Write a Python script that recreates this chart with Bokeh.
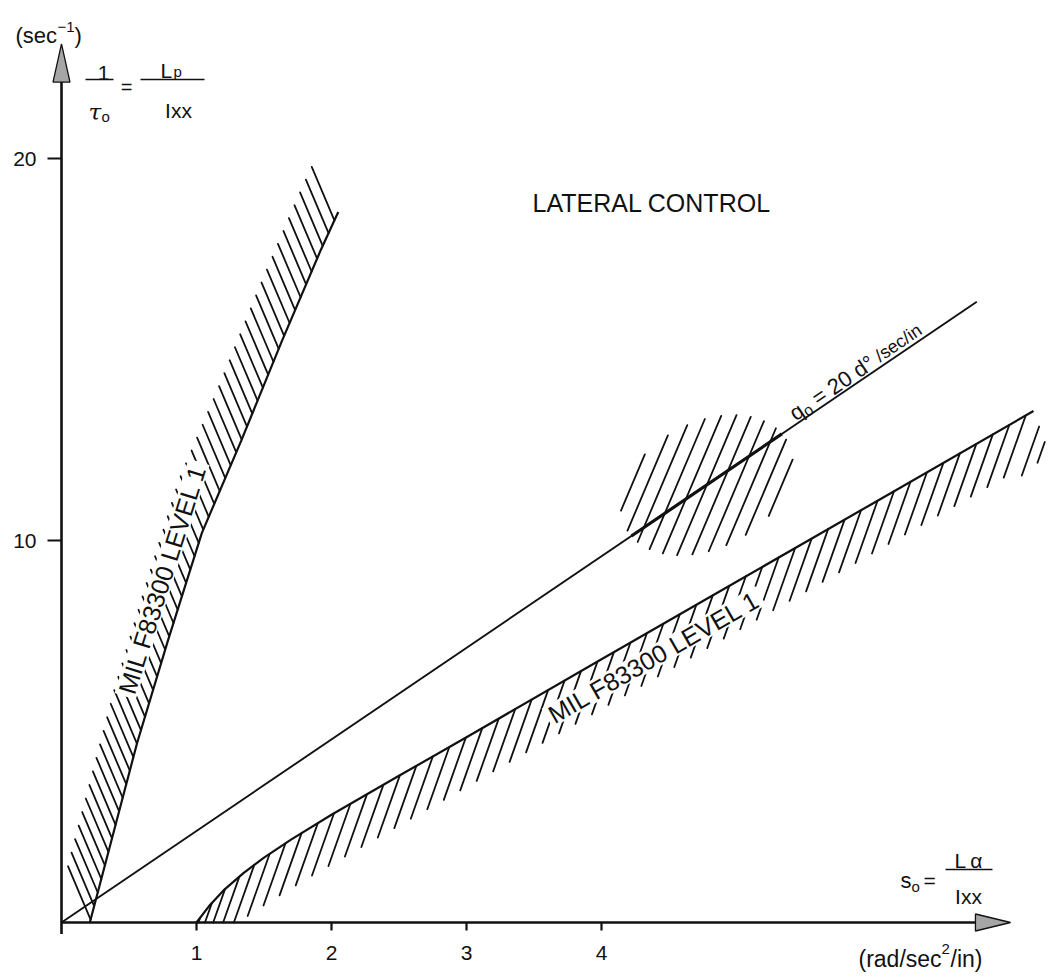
import numpy as np
from bokeh.plotting import figure
from bokeh.models import Range1d
from bokeh.core.properties import value
from bokeh.embed import file_html
from bokeh.resources import INLINE

# ---------------- chart data ----------------
x_ticks = [1, 2, 3, 4]
x_tick_labels = ["1", "2", "3", "4"]
y_ticks = [10, 20]
y_tick_labels = ["10", "20"]

# line of constant roll sensitivity q0 = 20 deg/sec/in  (s0, 1/tau0)
q0_s = [0.0, 6.78]
q0_p = [0.0, 16.25]

# MIL F83300 level 1 boundaries (s0, 1/tau0)
left_s = [0.21, 0.56, 0.79, 1.04, 1.33, 1.63, 1.92, 2.05]
left_p = [0.0, 4.7, 7.4, 10.2, 12.6, 15.2, 17.6, 18.6]
right_s = [1.0, 1.1, 1.2, 1.35, 1.5, 1.7, 2.0, 2.5, 3.0, 4.0, 5.0, 6.0, 7.2]
right_p = [0.0, 0.46, 0.84, 1.30, 1.70, 2.17, 2.82, 3.84, 4.85, 6.89, 8.92, 10.95, 13.39]

# hatched design region on the q0 line
blob_s = [4.78]
blob_p = [11.45]

x_axis_end = 7.03
y_axis_end = 23.0

# ---------------- page geometry ----------------
W, H = 1052, 977
X0, Y0 = 61.0, 922.0      # page pixel of the origin
SX, SY = 135.0, 38.2      # pixels per unit

INK = "#111111"
FONT = "Liberation Sans"


def to_px(x, y):
    return X0 + SX * np.asarray(x, float), Y0 - SY * np.asarray(y, float)


def to_data(px, py):
    return (np.asarray(px, float) - X0) / SX, (Y0 - np.asarray(py, float)) / SY


p = figure(width=W, height=H,
           x_range=Range1d(-X0 / SX, (W - X0) / SX),
           y_range=Range1d(-(H - Y0) / SY, Y0 / SY),
           output_backend="svg", toolbar_location=None,
           x_axis_location=None, y_axis_location=None,
           min_border=0, outline_line_color=None,
           background_fill_color="white", border_fill_color="white")
p.xgrid.visible = False
p.ygrid.visible = False


def txt(x, y, s, size, align="left", baseline="alphabetic", angle=0.0,
        style="normal", font=FONT):
    p.text(x=[x], y=[y], text=[s], text_font=value(font),
           text_font_size=f"{size}px", text_align=align,
           text_baseline=baseline, angle=angle, text_color=INK,
           text_font_style=style)


def txt_px(px, py, s, size, **kw):
    x, y = to_data(px, py)
    txt(float(x), float(y), s, size, **kw)


# ---------------- hatching helpers ----------------
def hatch_along(xs, ys, spacing, length, angle_deg, start, clip=None, tail=()):
    px, py = to_px(xs, ys)
    cum = np.concatenate([[0.0], np.cumsum(np.hypot(np.diff(px), np.diff(py)))])
    a = np.radians(angle_deg)
    d = np.array([np.cos(a), -np.sin(a)])
    out_x, out_y = [], []

    def add(p0, p1):
        if clip == "yaxis":
            if p0[0] < X0:
                return
            if p1[0] < X0:
                t = (X0 - p0[0]) / (p1[0] - p0[0])
                p1 = p0 + t * (p1 - p0)
        if clip == "xaxis":
            if p0[1] > Y0:
                return
            if p1[1] > Y0:
                t = (Y0 - p0[1]) / (p1[1] - p0[1])
                p1 = p0 + t * (p1 - p0)
        dx, dy = to_data([p0[0], p1[0]], [p0[1], p1[1]])
        out_x.append(list(dx))
        out_y.append(list(dy))

    for s in np.arange(start, cum[-1] + 1e-9, spacing):
        p0 = np.array([np.interp(s, cum, px), np.interp(s, cum, py)])
        add(p0, p0 + length * d)
    e = np.array([px[-1], py[-1]])
    ld = np.array([px[-1] - px[-2], py[-1] - py[-2]])
    ld /= np.hypot(*ld)
    for j, (off, ln) in enumerate(tail, 1):
        base = e + j * spacing * 0.85 * ld + off * d
        add(base, base + ln * d)
    return out_x, out_y


def ellipse_chord(q, d, c, A, B, tilt_deg):
    """Parameters where the ray q + t*d crosses a tilted ellipse (screen px)."""
    tr = np.radians(tilt_deg)
    u = np.array([np.cos(tr), -np.sin(tr)])
    v = np.array([np.sin(tr), np.cos(tr)])
    r0 = q - c
    a0, a1 = r0 @ u, d @ u
    b0, b1 = r0 @ v, d @ v
    qa = a1 * a1 / A ** 2 + b1 * b1 / B ** 2
    qb = 2 * (a0 * a1 / A ** 2 + b0 * b1 / B ** 2)
    qc = a0 * a0 / A ** 2 + b0 * b0 / B ** 2 - 1
    disc = qb * qb - 4 * qa * qc
    if disc <= 0:
        return None
    return (-qb - np.sqrt(disc)) / (2 * qa), (-qb + np.sqrt(disc)) / (2 * qa)


BLOB = dict(A=91.5, B=62.6, tilt_deg=28)


def blob_strokes(cx, cy, angle_deg, spacing, n):
    ar = np.radians(angle_deg)
    d = np.array([np.cos(ar), -np.sin(ar)])
    c = np.array([cx, cy])
    out_x, out_y = [], []
    for k in range(-n, n + 1):
        q = np.array([cx + spacing * k, cy])
        ts = ellipse_chord(q, d, c, **BLOB)
        if ts is None or ts[1] - ts[0] < 14:
            continue
        p1, p2 = q + ts[0] * d, q + ts[1] * d
        dx, dy = to_data([p1[0], p2[0]], [p1[1], p2[1]])
        out_x.append(list(dx))
        out_y.append(list(dy))
    return out_x, out_y


def frame_on(xs, ys, at, offset, side, by="x"):
    """Centre and angle of a label running along a boundary, offset sideways."""
    if by == "x":
        pts = [(v, np.interp(v, xs, ys)) for v in (at - 0.08, at, at + 0.08)]
    else:  # steep boundary: step along the vertical coordinate
        pts = [(np.interp(v, ys, xs), v) for v in (at - 0.6, at, at + 0.6)]
    (x0, y0), (xm, ym), (x1, y1) = [to_px(*q) for q in pts]
    ang = float(np.arctan2(-(y1 - y0), x1 - x0))
    n = ang + (np.pi / 2 if side == "left" else -np.pi / 2)
    cx, cy = to_data(xm + offset * np.cos(n), ym - offset * np.sin(n))
    return float(cx), float(cy), ang


# ---------------- hatched bands ----------------
lx, ly = hatch_along(left_s, left_p, 14, 58, 113, 3, clip="yaxis")
p.multi_line(lx, ly, line_color=INK, line_width=1.8, line_cap="round")

rx, ry = hatch_along(right_s, right_p, 19, 66, 250.5, 6, clip="xaxis",
                     tail=[(25, 52), (50, 22)])
p.multi_line(rx, ry, line_color=INK, line_width=1.8, line_cap="round")

bcx, bcy = to_px(blob_s[0], blob_p[0])
bx, by = blob_strokes(float(bcx), float(bcy), 67, 15, 6)
p.multi_line(bx, by, line_color=INK, line_width=1.8, line_cap="round")

# band labels (a white box keeps the text clear of the hatching)
BAND_TEXT = "MIL F83300 LEVEL 1"
frames = [frame_on(left_s, left_p, 8.8, 24, "left", by="y"),
          frame_on(right_s, right_p, 4.3, 24, "right")]
for (cx, cy, a) in frames:
    p.rect(x=[cx], y=[cy], width=[246], height=[22], angle=[a],
           width_units="screen", height_units="screen",
           fill_color="white", line_color=None)
    txt(cx, cy, BAND_TEXT, 25, align="center", baseline="middle", angle=a)

# ---------------- lines ----------------
p.line(left_s, left_p, line_color=INK, line_width=2.2)
p.line(right_s, right_p, line_color=INK, line_width=2.2)
p.line(q0_s, q0_p, line_color=INK, line_width=1.9)

# the q0 line is inked more heavily where it crosses the hatched region
qx0, qy0 = to_px(q0_s[0], q0_p[0])
qx1, qy1 = to_px(q0_s[1], q0_p[1])
qdir = np.array([qx1 - qx0, qy1 - qy0])
qdir /= np.hypot(*qdir)
ts = ellipse_chord(np.array([float(qx0), float(qy0)]), qdir,
                   np.array([float(bcx), float(bcy)]), **BLOB)
if ts is not None:
    e0 = np.array([qx0, qy0]) + ts[0] * qdir
    e1 = np.array([qx0, qy0]) + ts[1] * qdir
    sx_, sy_ = to_data([e0[0], e1[0]], [e0[1], e1[1]])
    p.line(list(sx_), list(sy_), line_color=INK, line_width=3.2)

# ---------------- axes ----------------
p.line([0, 0], [-0.3, y_axis_end - 1.0], line_color=INK, line_width=2.6)
p.line([0, x_axis_end - 0.26], [0, 0], line_color=INK, line_width=2.6)
hw_x = 8.5 / SX
hw_y = 8.5 / SY
p.patches([[0, -hw_x, hw_x], [x_axis_end, x_axis_end - 0.26, x_axis_end - 0.26]],
          [[y_axis_end, y_axis_end - 1.0, y_axis_end - 1.0], [0, hw_y, -hw_y]],
          fill_color="#a6a6a6", line_color=INK, line_width=1.3)

# ticks
tick_out_x = 14 / SX
tick_out_y = 8 / SY
p.multi_line([[-tick_out_x, 0] for _ in y_ticks], [[t, t] for t in y_ticks],
             line_color=INK, line_width=2.2)
p.multi_line([[t, t] for t in x_ticks], [[0, -tick_out_y] for _ in x_ticks],
             line_color=INK, line_width=2.2)
p.text(x=[-25 / SX] * len(y_ticks), y=y_ticks, text=y_tick_labels,
       text_font=value(FONT), text_font_size="21px", text_align="right",
       text_baseline="middle", text_color=INK)
p.text(x=x_ticks, y=[-30 / SY] * len(x_ticks), text=x_tick_labels,
       text_font=value(FONT), text_font_size="21px", text_align="center",
       text_baseline="middle", text_color=INK)

# ---------------- annotations ----------------
# vertical axis unit and quantity
txt_px(15, 35, "(sec", 22)
txt_px(57, 26, "\u22121", 15)
txt_px(74, 35, ")", 22)

txt_px(103, 72, "1", 21, align="center")
txt_px(88, 111, "\u03c4", 23, style="italic", font="DejaVu Serif")
txt_px(101, 116, "o", 15)
txt_px(126, 86, "=", 20, align="center")
txt_px(160, 70, "L", 21)
txt_px(173, 71, "p", 15)
txt_px(178, 110, "Ixx", 21, align="center")
bars_x, bars_y = [], []
for (a, b, yy) in [(85, 113, 79), (140, 204, 79), (945, 992, 869)]:
    dx, dy = to_data([a, b], [yy, yy])
    bars_x.append(list(dx))
    bars_y.append(list(dy))
p.multi_line(bars_x, bars_y, line_color=INK, line_width=1.6)

# horizontal axis unit and quantity
txt_px(900, 880, "s", 22)
txt_px(911, 886, "o", 15)
txt_px(923, 880, "=", 21)
txt_px(968, 860, "L\u2009\u03b1", 21, align="center")
txt_px(968, 896, "Ixx", 21, align="center")

txt_px(858, 958, "(rad/sec", 23)
txt_px(941, 948, "2", 15)
txt_px(950, 958, "/in)", 23)

txt_px(532, 202, "LATERAL CONTROL", 25)

# q0 label along its line
qa = float(np.arctan2(-(qy1 - qy0), qx1 - qx0))
ax_, ay_ = to_px(5.45, np.interp(5.45, q0_s, q0_p))
ax_ = float(ax_) - 10 * np.sin(qa)
ay_ = float(ay_) - 10 * np.cos(qa)
for (s, off, drop, size) in [("q", 0, 0, 22), ("o", 12, 5, 16),
                              ("= 20 d\u00b0", 27, 0, 22), ("/sec/in", 103, 0, 18)]:
    px_ = ax_ + off * np.cos(qa) + drop * np.sin(qa)
    py_ = ay_ - off * np.sin(qa) + drop * np.cos(qa)
    txt_px(px_, py_, s, size, angle=qa)

open("out.html", "w").write(file_html(p, INLINE))
